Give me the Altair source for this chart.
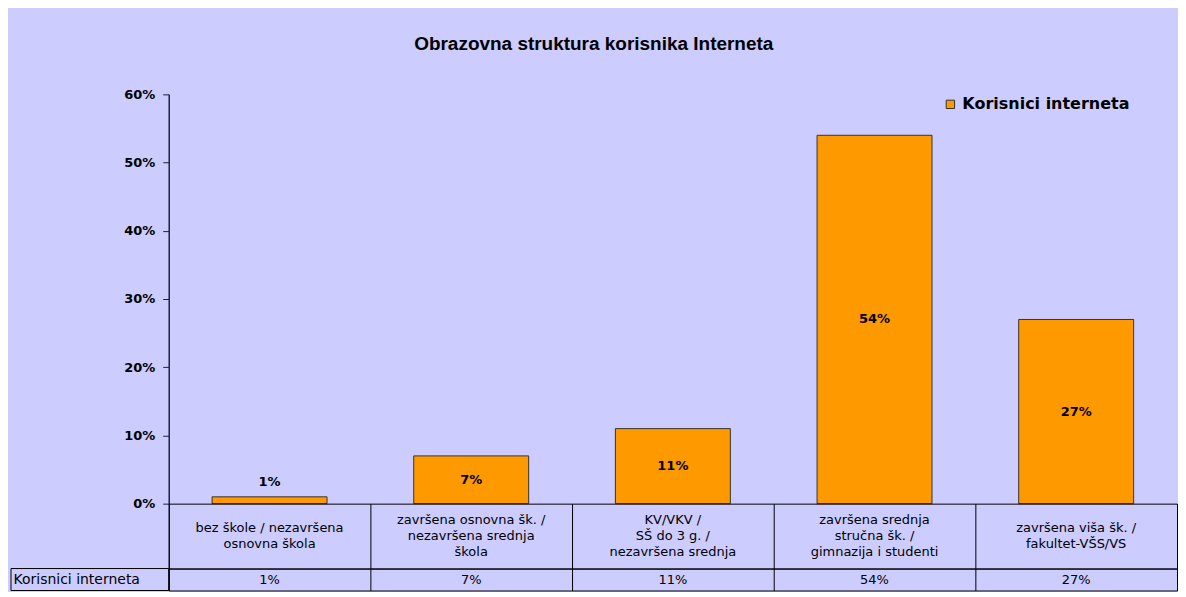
import altair as alt
import pandas as pd

categories = [
    "bez škole / nezavršena\nosnovna škola",
    "završena osnovna šk. /\nnezavršena srednja\nškola",
    "KV/VKV /\nSŠ do 3 g. /\nnezavršena srednja",
    "završena srednja\nstručna šk. /\ngimnazija i studenti",
    "završena viša šk. /\nfakultet-VŠS/VS",
]
values = [0.01, 0.07, 0.11, 0.54, 0.27]
value_labels = ["1%", "7%", "11%", "54%", "27%"]
series_name = "Korisnici interneta"
y_ticks = [0, 0.1, 0.2, 0.3, 0.4, 0.5, 0.6]

df = pd.DataFrame({
    "cat": categories,
    "v": values,
    "lab": value_labels,
    "series": [series_name] * len(categories),
    "row": ["r"] * len(categories),
    "row2": [series_name] * len(categories),
})

BG = "#CCCCFF"
ORANGE = "#FF9900"
AX = "#1F1F3F"
FONT = "DejaVu Sans"
W = 1010
LH = 16

xscale = alt.Scale(domain=categories, paddingInner=0.43, paddingOuter=0.215)
xscale_t = alt.Scale(domain=categories, paddingInner=0, paddingOuter=0)

base = alt.Chart(df)

bars = base.mark_bar(stroke="#333333", strokeWidth=1).encode(
    x=alt.X("cat:N", scale=xscale, sort=categories, axis=None),
    y=alt.Y("v:Q", scale=alt.Scale(domain=[0, 0.6], nice=False),
            axis=alt.Axis(title=None, values=y_ticks, format=".0%",
                          labelFont=FONT, labelFontWeight="bold", labelFontSize=13,
                          labelColor="#000000", labelPadding=8,
                          tickSize=6, tickColor=AX, domainColor=AX, domainWidth=1.5,
                          grid=False)),
    fill=alt.Fill("series:N", scale=alt.Scale(domain=[series_name], range=[ORANGE]),
                  legend=alt.Legend(title=None, orient="none", legendX=775, legendY=2,
                                    symbolType="square", symbolSize=70,
                                    symbolStrokeColor="#333333", symbolStrokeWidth=1,
                                    labelFont=FONT, labelFontWeight="bold",
                                    labelFontSize=16, labelColor="#000000",
                                    labelLimit=400)),
)

bar_text = base.transform_calculate(
    pos="datum.v < 0.03 ? datum.v + 0.022 : datum.v / 2"
).mark_text(font=FONT, fontWeight="bold", fontSize=13, color="#000000",
            baseline="middle").encode(
    x=alt.X("cat:N", scale=xscale, sort=categories, axis=None),
    y=alt.Y("pos:Q"),
    text="lab:N",
)

top = alt.layer(bars, bar_text).properties(width=W, height=410)

grid_axis = alt.Axis(title=None, labels=False, ticks=False, domain=False,
                     grid=True, gridColor="#000000", gridWidth=1, tickBand="extent",
                     minExtent=0, maxExtent=0, offset=0, labelPadding=0, tickSize=0)

lines_df = base.transform_calculate(
    nlines="split(datum.cat, '\\n').length"
)


def label_layer(n, dy):
    return lines_df.transform_filter(f"datum.nlines == {n}").mark_text(
        font=FONT, fontSize=13, color="#000000", lineBreak="\n",
        baseline="middle", lineHeight=LH, dy=dy
    ).encode(
        x=alt.X("cat:N", scale=xscale_t, sort=categories, axis=grid_axis),
        y=alt.Y("row:N", axis=None),
        text="cat:N",
    )


labels_panel = alt.layer(
    label_layer(2, -LH / 2), label_layer(3, -LH)
).properties(width=W, height=65, view=alt.ViewBackground(stroke="#000000"))

values_text = base.mark_text(font=FONT, fontSize=13, color="#000000",
                             baseline="middle").encode(
    x=alt.X("cat:N", scale=xscale_t, sort=categories, axis=grid_axis),
    y=alt.Y("row2:N", axis=alt.Axis(title=None, labelAlign="left", labelPadding=156,
                                    ticks=False, domain=False, labelFont=FONT,
                                    labelFontSize=14, labelColor="#000000")),
    text="lab:N",
)
header_box = alt.Chart(pd.DataFrame({"row2": [series_name]})).mark_rect(
    fill=None, stroke="#000000", strokeWidth=1
).encode(
    x=alt.value(-158), x2=alt.value(0),
    y=alt.value(0), y2=alt.value(22),
)
values_panel = alt.layer(header_box, values_text).properties(
    width=W, height=22, view=alt.ViewBackground(stroke="#000000"))

chart = alt.vconcat(top, labels_panel, values_panel, spacing=0, bounds="flush").properties(
    title=alt.TitleParams("Obrazovna struktura korisnika Interneta", font="Liberation Sans",
                          fontSize=19, fontWeight="bold", color="#000000",
                          anchor="middle", offset=34),
    padding={"left": 2, "top": 27, "right": 0, "bottom": 0},
    background=BG,
).configure_view(
    stroke=None,
).configure_concat(spacing=0)

chart.save("out.html", embed_options={"renderer": "svg", "actions": False})
